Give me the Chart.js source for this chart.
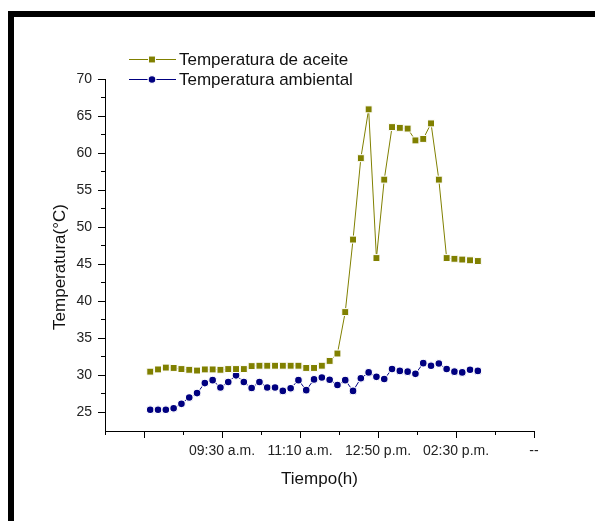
<!DOCTYPE html>
<html>
<head>
<meta charset="utf-8">
<script src="https://cdn.jsdelivr.net/npm/chart.js@4.4.1/dist/chart.umd.min.js"></script>
<style>
html, body { margin: 0; padding: 0; background: #fff; overflow: hidden; }
#wrap { position: relative; width: 595px; height: 521px; }
#frame { position: absolute; left: 8px; top: 11px; width: 700px; height: 700px;
         border-left: 6px solid #000; border-top: 6px solid #000; pointer-events: none; }
canvas { position: absolute; left: 0; top: 0; }
</style>
</head>
<body>
<div id="wrap">
  <canvas id="myChart" width="595" height="521"></canvas>
  <div id="frame"></div>
</div>
<script>
// lecturas cada 10 min
const horas = ['07:58','08:08','08:18','08:28','08:38','08:48','08:58','09:08','09:18','09:28',
               '09:38','09:48','09:58','10:08','10:18','10:28','10:38','10:48','10:58','11:08',
               '11:18','11:28','11:38','11:48','11:58','12:08','12:18','12:28','12:38','12:48',
               '12:58','13:08','13:18','13:28','13:38','13:48','13:58','14:08','14:18','14:28',
               '14:38','14:48','14:58'];
const tempAceite = [30.45, 30.75, 31.0, 30.95, 30.8, 30.7, 30.6, 30.75, 30.75, 30.7,
                    30.8, 30.8, 30.8, 31.2, 31.25, 31.25, 31.25, 31.25, 31.25, 31.25,
                    30.95, 30.95, 31.25, 31.9, 32.9, 38.5, 48.3, 59.3, 65.9, 45.8,
                    56.4, 63.5, 63.4, 63.3, 61.7, 61.9, 64.0, 56.4, 45.8, 45.7,
                    45.6, 45.5, 45.4];
const tempAmbiente = [25.3, 25.3, 25.3, 25.5, 26.1, 26.95, 27.55, 28.9, 29.3, 28.3,
                      29.05, 29.95, 29.05, 28.25, 29.05, 28.3, 28.3, 27.85, 28.2, 29.3,
                      27.95, 29.4, 29.65, 29.35, 28.65, 29.3, 27.85, 29.55, 30.35, 29.75,
                      29.45, 30.8, 30.55, 30.45, 30.15, 31.6, 31.25, 31.55, 30.8, 30.45,
                      30.35, 30.7, 30.55];
const xTickValues = [470, 570, 670, 770, 870, 970];   // minutos
const xTickLabels = ['', '09:30 a.m.', '11:10 a.m.', '12:50 p.m.', '02:30 p.m.', '--'];
const xMinorTicks = [420, 520, 620, 720, 820, 920];
const yTickValues = [25, 30, 35, 40, 45, 50, 55, 60, 65, 70];
const yMinorTicks = [27.5, 32.5, 37.5, 42.5, 47.5, 52.5, 57.5, 62.5, 67.5];

const FONT = '"Liberation Sans", Arial, sans-serif';

function aMinutos(h) {
  const p = h.split(':');
  return Number(p[0]) * 60 + Number(p[1]);
}
const puntos = arr => arr.map((v, i) => ({ x: aMinutos(horas[i]), y: v }));

// ticks mayores y menores, titulos y leyenda
const extras = {
  id: 'extras',
  afterDraw(chart) {
    const ctx = chart.ctx;
    const xs = chart.scales.x, ys = chart.scales.y;
    const area = chart.chartArea;
    ctx.save();
    ctx.strokeStyle = '#000';
    ctx.lineWidth = 1;
    ctx.beginPath();
    xTickValues.forEach(v => { const px = Math.round(xs.getPixelForValue(v)) + 0.5; ctx.moveTo(px, area.bottom); ctx.lineTo(px, area.bottom + 7); });
    xMinorTicks.forEach(v => { const px = Math.round(xs.getPixelForValue(v)) + 0.5; ctx.moveTo(px, area.bottom); ctx.lineTo(px, area.bottom + 4); });
    yTickValues.forEach(v => { const py = Math.round(ys.getPixelForValue(v)) + 0.5; ctx.moveTo(area.left, py); ctx.lineTo(area.left - 7, py); });
    yMinorTicks.forEach(v => { const py = Math.round(ys.getPixelForValue(v)) + 0.5; ctx.moveTo(area.left, py); ctx.lineTo(area.left - 4, py); });
    ctx.stroke();

    // titulos de ejes
    ctx.fillStyle = '#111';
    ctx.font = '17px ' + FONT;
    ctx.textAlign = 'center';
    ctx.textBaseline = 'middle';
    ctx.fillText('Tiempo(h)', (area.left + area.right) / 2, 479);
    ctx.save();
    ctx.translate(60, 267);
    ctx.rotate(-Math.PI / 2);
    ctx.fillText('Temperatura(°C)', 0, 0);
    ctx.restore();

    // leyenda
    chart.data.datasets.forEach((ds, i) => {
      const y = 59 + i * 20;
      ctx.strokeStyle = ds.borderColor;
      ctx.lineWidth = 1;
      ctx.beginPath();
      ctx.moveTo(129, y + 0.5);
      ctx.lineTo(176, y + 0.5);
      ctx.stroke();
      ctx.fillStyle = ds.pointBackgroundColor;
      ctx.strokeStyle = ds.pointBorderColor;
      ctx.lineWidth = ds.pointBorderWidth;
      Chart.helpers.drawPoint(ctx, { pointStyle: ds.pointStyle, radius: ds.pointRadius,
                                     borderWidth: ds.pointBorderWidth, rotation: 0 }, 152, y + 0.5);
      ctx.fillStyle = '#111';
      ctx.textAlign = 'left';
      ctx.fillText(ds.label, 179, y + 1);
    });
    ctx.restore();
  }
};

const ctx = document.getElementById('myChart').getContext('2d');
const myChart = new Chart(ctx, {
  type: 'line',
  data: {
    datasets: [
      {
        label: 'Temperatura de aceite',
        data: puntos(tempAceite),
        borderColor: '#808000',
        backgroundColor: '#808000',
        borderWidth: 1,
        pointStyle: 'rect',
        pointRadius: 4.9,
        pointBackgroundColor: '#808000',
        pointBorderColor: '#ffffff',
        pointBorderWidth: 1,
        tension: 0
      },
      {
        label: 'Temperatura ambiental',
        data: puntos(tempAmbiente),
        borderColor: '#000080',
        backgroundColor: '#000080',
        borderWidth: 1,
        pointStyle: 'circle',
        pointRadius: 3.9,
        pointBackgroundColor: '#000080',
        pointBorderColor: '#ffffff',
        pointBorderWidth: 1.2,
        tension: 0
      }
    ]
  },
  options: {
    responsive: false,
    animation: false,
    layout: { padding: { left: 0, right: 61, top: 79, bottom: 0 } },
    plugins: { legend: { display: false }, tooltip: { enabled: false } },
    scales: {
      x: {
        type: 'linear',
        min: 420,
        max: 970,
        afterBuildTicks: s => { s.ticks = xTickValues.map(v => ({ value: v })); },
        afterFit: s => { s.height = 90; },
        grid: { display: false, drawTicks: false },
        border: { display: true, color: '#000', width: 1 },
        ticks: {
          autoSkip: false, maxRotation: 0, minRotation: 0, padding: 12,
          color: '#222', font: { family: FONT, size: 14 },
          callback: (v, i) => xTickLabels[i]
        }
      },
      y: {
        min: 22.43,
        max: 70,
        afterBuildTicks: s => { s.ticks = yTickValues.map(v => ({ value: v })); },
        afterFit: s => { s.width = 105; },
        grid: { display: false, drawTicks: false },
        border: { display: true, color: '#000', width: 1 },
        ticks: {
          padding: 13, color: '#222', font: { family: FONT, size: 14 },
          callback: (v, i) => String(yTickValues[i])
        }
      }
    }
  },
  plugins: [extras]
});
</script>
</body>
</html>
